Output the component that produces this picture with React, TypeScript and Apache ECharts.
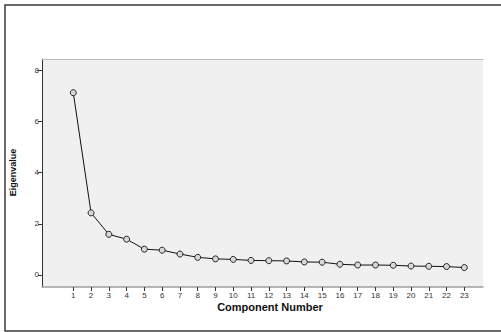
import React, { useEffect, useRef } from "react";
import * as echarts from "echarts";

const components = [1, 2, 3, 4, 5, 6, 7, 8, 9, 10, 11, 12, 13, 14, 15, 16, 17, 18, 19, 20, 21, 22, 23];
const eigenvalues = [7.13, 2.43, 1.59, 1.40, 1.01, 0.97, 0.82, 0.69, 0.63, 0.61, 0.57, 0.56, 0.55, 0.51, 0.50, 0.42, 0.39, 0.39, 0.38, 0.35, 0.34, 0.33, 0.29];
const yTicks = [0, 2, 4, 6, 8];
const xTitle = "Component Number";
const yTitle = "Eigenvalue";

export default function App() {
  const ref = useRef<HTMLDivElement>(null);
  useEffect(() => {
    const chart = echarts.init(ref.current!, null, { renderer: "svg" });
    const font = "'Liberation Sans', Arial, sans-serif";
    chart.setOption({
      animation: false,
      backgroundColor: "#ffffff",
      grid: {
        left: 42,
        top: 59,
        right: 18,
        bottom: 45,
        show: true,
        backgroundColor: "#f0f0f0",
        borderWidth: 0,
      },
      xAxis: [
        {
          type: "value",
          min: -0.76,
          max: 24.05,
          interval: 1,
          position: "bottom",
          axisLine: { show: true, onZero: false, lineStyle: { color: "#a0a0a0", width: 1.5 } },
          axisTick: {
            show: true,
            length: 4,
            lineStyle: { color: "#333" },
            customValues: components,
          },
          axisLabel: {
            customValues: components,
            color: "#333",
            fontSize: 8,
            fontFamily: font,
            margin: 4,
          },
          splitLine: { show: false },
        },
        {
          type: "value",
          min: -0.76,
          max: 24.05,
          position: "top",
          axisLine: { show: true, onZero: false, lineStyle: { color: "#bdbdbd", width: 1 } },
          axisTick: { show: false },
          axisLabel: { show: false },
          splitLine: { show: false },
        },
      ],
      yAxis: {
        type: "value",
        min: -0.47,
        max: 8.45,
        axisLine: { show: true, onZero: false, lineStyle: { color: "#333", width: 1 } },
        axisTick: { show: true, length: 4, lineStyle: { color: "#333" }, customValues: yTicks },
        axisLabel: { customValues: yTicks, color: "#333", fontSize: 8, fontFamily: font, margin: 3 },
        splitLine: { show: false },
      },
      graphic: [
        {
          type: "rect",
          shape: { x: 5, y: 5, width: 520, height: 326 },
          style: { fill: "none", stroke: "#3a3a3a", lineWidth: 1.5 },
          silent: true,
        },
        {
          type: "text",
          x: 270,
          y: 307,
          style: {
            text: xTitle,
            fontSize: 11,
            fontWeight: "bold",
            fontFamily: font,
            fill: "#111",
            align: "center",
            verticalAlign: "middle",
          },
        },
        {
          type: "text",
          x: 12.5,
          y: 172.5,
          rotation: Math.PI / 2,
          style: {
            text: yTitle,
            fontSize: 9,
            fontWeight: "bold",
            fontFamily: font,
            fill: "#111",
            align: "center",
            verticalAlign: "middle",
          },
        },
      ],
      series: [
        {
          type: "line",
          xAxisIndex: 0,
          data: components.map((c, i) => [c, eigenvalues[i]]),
          symbol: "circle",
          symbolSize: 6,
          lineStyle: { color: "#111", width: 1 },
          itemStyle: { color: "#d8d8d8", borderColor: "#222", borderWidth: 1 },
        },
      ],
    });
    return () => chart.dispose();
  }, []);
  return (
    <div
      ref={ref}
      style={{ position: "absolute", left: 0, top: 0, width: 501, height: 332 }}
    />
  );
}
